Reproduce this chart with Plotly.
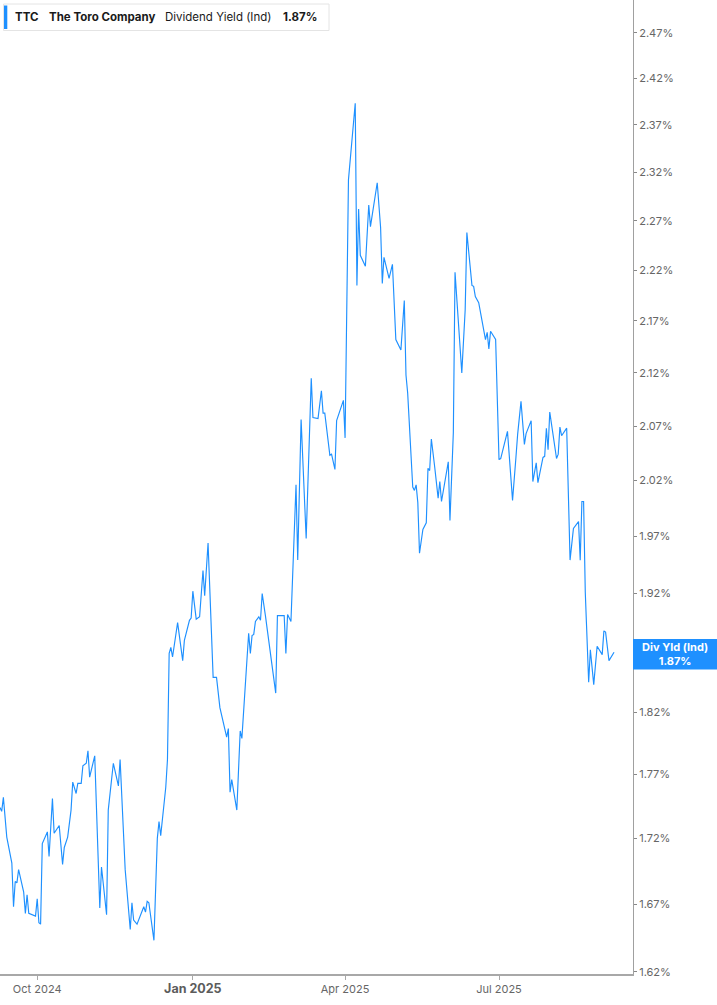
import plotly.graph_objects as go

# ============================================================
# 1. DATA  (TTC dividend yield, %)
# ============================================================
dates = [
    "2024-09-09", "2024-09-10", "2024-09-11", "2024-09-13", "2024-09-16", "2024-09-17",
    "2024-09-18", "2024-09-19", "2024-09-20", "2024-09-23", "2024-09-24", "2024-09-25",
    "2024-09-26", "2024-09-30", "2024-10-01", "2024-10-02", "2024-10-03", "2024-10-04",
    "2024-10-07", "2024-10-08", "2024-10-10", "2024-10-11", "2024-10-14", "2024-10-16",
    "2024-10-17", "2024-10-19", "2024-10-21", "2024-10-22", "2024-10-24", "2024-10-25",
    "2024-10-27", "2024-10-28", "2024-10-30", "2024-10-31", "2024-11-01", "2024-11-04",
    "2024-11-07", "2024-11-08", "2024-11-11", "2024-11-12", "2024-11-15", "2024-11-18",
    "2024-11-19", "2024-11-22", "2024-11-25", "2024-11-26", "2024-11-27", "2024-11-29",
    "2024-12-03", "2024-12-04", "2024-12-05", "2024-12-06", "2024-12-09", "2024-12-11",
    "2024-12-12", "2024-12-13", "2024-12-16", "2024-12-17", "2024-12-18", "2024-12-19",
    "2024-12-20", "2024-12-23", "2024-12-26", "2024-12-27", "2024-12-30", "2024-12-31",
    "2025-01-01", "2025-01-03", "2025-01-05", "2025-01-07", "2025-01-08", "2025-01-10",
    "2025-01-13", "2025-01-15", "2025-01-17", "2025-01-21", "2025-01-22", "2025-01-23",
    "2025-01-24", "2025-01-27", "2025-01-29", "2025-01-30", "2025-02-03", "2025-02-04",
    "2025-02-05", "2025-02-06", "2025-02-07", "2025-02-09", "2025-02-10", "2025-02-11",
    "2025-02-13", "2025-02-19", "2025-02-20", "2025-02-24", "2025-02-25", "2025-02-26",
    "2025-02-28", "2025-03-01", "2025-03-03", "2025-03-04", "2025-03-06", "2025-03-09",
    "2025-03-12", "2025-03-13", "2025-03-16", "2025-03-18", "2025-03-19", "2025-03-20",
    "2025-03-23", "2025-03-24", "2025-03-26", "2025-03-27", "2025-03-31", "2025-04-01",
    "2025-04-03", "2025-04-07", "2025-04-08", "2025-04-09", "2025-04-10", "2025-04-13",
    "2025-04-15", "2025-04-16", "2025-04-20", "2025-04-22", "2025-04-23", "2025-04-24",
    "2025-04-27", "2025-04-29", "2025-05-01", "2025-05-04", "2025-05-06", "2025-05-07",
    "2025-05-08", "2025-05-11", "2025-05-12", "2025-05-13", "2025-05-14", "2025-05-15",
    "2025-05-17", "2025-05-19", "2025-05-20", "2025-05-21", "2025-05-22", "2025-05-24",
    "2025-05-26", "2025-05-27", "2025-05-28", "2025-06-01", "2025-06-02", "2025-06-04",
    "2025-06-05", "2025-06-09", "2025-06-11", "2025-06-12", "2025-06-15", "2025-06-16",
    "2025-06-17", "2025-06-19", "2025-06-23", "2025-06-24", "2025-06-25", "2025-06-26",
    "2025-06-29", "2025-07-01", "2025-07-02", "2025-07-06", "2025-07-09", "2025-07-11",
    "2025-07-12", "2025-07-14", "2025-07-16", "2025-07-17", "2025-07-20", "2025-07-21",
    "2025-07-23", "2025-07-24", "2025-07-27", "2025-07-28", "2025-07-29", "2025-07-30",
    "2025-07-31", "2025-08-04", "2025-08-05", "2025-08-06", "2025-08-07", "2025-08-10",
    "2025-08-12", "2025-08-14", "2025-08-17", "2025-08-18", "2025-08-19", "2025-08-20",
    "2025-08-21", "2025-08-23", "2025-08-24", "2025-08-26", "2025-08-28", "2025-08-31",
    "2025-09-01", "2025-09-02", "2025-09-04", "2025-09-07",
]

yield_pct = [
    1.744, 1.741, 1.752, 1.721, 1.701, 1.668,
    1.687, 1.686, 1.696, 1.679, 1.663, 1.677,
    1.663, 1.661, 1.674, 1.656, 1.655, 1.716,
    1.725, 1.706, 1.751, 1.724, 1.730, 1.700,
    1.713, 1.721, 1.742, 1.764, 1.755, 1.763,
    1.763, 1.777, 1.779, 1.789, 1.768, 1.785,
    1.667, 1.698, 1.662, 1.742, 1.779, 1.761,
    1.782, 1.696, 1.651, 1.671, 1.658, 1.655,
    1.668, 1.664, 1.672, 1.671, 1.643, 1.720,
    1.733, 1.722, 1.760, 1.782, 1.869, 1.874,
    1.866, 1.895, 1.863, 1.880, 1.897, 1.899,
    1.922, 1.898, 1.900, 1.940, 1.918, 1.964,
    1.849, 1.849, 1.824, 1.800, 1.807, 1.756,
    1.766, 1.742, 1.805, 1.799, 1.886, 1.869,
    1.884, 1.885, 1.896, 1.900, 1.897, 1.920,
    1.900, 1.836, 1.901, 1.901, 1.869, 1.902,
    1.896, 1.942, 2.016, 1.949, 2.076, 1.968,
    2.115, 2.078, 2.077, 2.103, 2.082, 2.082,
    2.043, 2.044, 2.030, 2.075, 2.094, 2.059,
    2.312, 2.393, 2.205, 2.282, 2.235, 2.224,
    2.286, 2.264, 2.309, 2.263, 2.207, 2.233,
    2.212, 2.226, 2.152, 2.142, 2.190, 2.118,
    2.101, 2.014, 2.011, 2.016, 2.000, 1.955,
    1.976, 1.982, 2.031, 2.029, 2.058, 2.032,
    2.004, 2.019, 2.001, 2.037, 1.984, 2.064,
    2.218, 2.120, 2.181, 2.258, 2.205, 2.204,
    2.194, 2.188, 2.152, 2.159, 2.143, 2.160,
    2.152, 2.039, 2.040, 2.065, 2.002, 2.041,
    2.062, 2.093, 2.053, 2.063, 2.075, 2.019,
    2.036, 2.018, 2.041, 2.042, 2.068, 2.048,
    2.083, 2.040, 2.044, 2.069, 2.061, 2.068,
    1.949, 1.977, 1.983, 1.949, 2.001, 2.001,
    1.921, 1.845, 1.872, 1.843, 1.875, 1.868,
    1.888, 1.887, 1.863, 1.870,
]

y_ticks = [1.62, 1.67, 1.72, 1.77, 1.82, 1.92, 1.97, 2.02, 2.07, 2.12,
           2.17, 2.22, 2.27, 2.32, 2.37, 2.42, 2.47]
y_tick_labels = ["1.62%", "1.67%", "1.72%", "1.77%", "1.82%", "1.92%", "1.97%", "2.02%",
                 "2.07%", "2.12%", "2.17%", "2.22%", "2.27%", "2.32%", "2.37%", "2.42%", "2.47%"]

x_ticks = ["2024-10-01", "2025-01-01", "2025-04-01", "2025-07-01"]
x_tick_labels = ["Oct 2024", "Jan 2025", "Apr 2025", "Jul 2025"]

last_value = 1.87

# ============================================================
# 2. FIGURE
# ============================================================
BLUE = "#1e90ff"
FONT = "Inter"

# year-start label is drawn bigger and bold
x_labels_fmt = []
for lbl in x_tick_labels:
    if lbl.startswith("Jan"):
        x_labels_fmt.append("<span style='font-size:12.5px;color:#5c5c5c'><b>" + lbl + "</b></span>")
    else:
        x_labels_fmt.append(lbl)

fig = go.Figure()
fig.add_trace(go.Scatter(
    x=dates, y=yield_pct, mode="lines",
    line=dict(color=BLUE, width=1.15),
    hoverinfo="skip", showlegend=False
))

fig.update_layout(
    width=717, height=1005,
    margin=dict(l=0, r=84, t=0, b=31),
    paper_bgcolor="white", plot_bgcolor="white",
    font=dict(family=FONT, size=11, color="#666666"),
    xaxis=dict(
        range=["2024-09-09", "2025-09-18 05:00"],
        tickvals=x_ticks, ticktext=x_labels_fmt,
        showgrid=False, zeroline=False,
        showline=True, linecolor="#a8a8a8", linewidth=1.5,
        ticks="outside", ticklen=4, tickcolor="#a8a8a8",
        tickfont=dict(size=11, color="#666666"),
        fixedrange=True,
    ),
    yaxis=dict(
        type="log", side="right",
        range=[0.20907, 0.39908],
        tickvals=y_ticks, ticktext=y_tick_labels,
        showgrid=False, zeroline=False,
        showline=True, linecolor="#a0a0a0", linewidth=1,
        ticks="outside", ticklen=3, tickcolor="#888888",
        tickfont=dict(size=11, color="#666666"),
        fixedrange=True,
    ),
)

# header box (legend)
PW, PH = 633.0, 974.0
def px_x(v):
    return v / PW
def px_y(v):
    return 1 - v / PH

fig.add_shape(type="rect", xref="paper", yref="paper",
              x0=px_x(3.5), x1=px_x(329), y0=px_y(30.5), y1=px_y(4),
              line=dict(color="#e4e4e4", width=1), fillcolor="white", layer="above")
fig.add_shape(type="rect", xref="paper", yref="paper",
              x0=px_x(4), x1=px_x(7.3), y0=px_y(29), y1=px_y(5.5),
              line=dict(width=0), fillcolor=BLUE, layer="above")

header = [
    ("<b>TTC</b>", 13.3),
    ("<b>The Toro Company</b>", 46.7),
    ("Dividend Yield (Ind)", 163.3),
    ("<b>" + f"{last_value:.2f}%" + "</b>", 281),
]
for txt, xpos in header:
    fig.add_annotation(
        x=px_x(xpos), y=px_y(17), xref="paper", yref="paper",
        text=txt, showarrow=False, xanchor="left", yanchor="middle",
        font=dict(family=FONT, size=11.5, color="#1a1a1a"),
    )

# last value tag on the right axis
fig.add_shape(type="rect", xref="paper", yref="paper",
              x0=1.0, x1=717 / PW, y0=px_y(669.5), y1=px_y(639),
              line=dict(width=0), fillcolor=BLUE, layer="above")
fig.add_annotation(
    x=(633 + 717) / 2 / PW, y=px_y(654), xref="paper", yref="paper",
    text="<b>Div Yld (Ind)</b><br><b>" + f"{last_value:.2f}%" + "</b>",
    showarrow=False, xanchor="center", yanchor="middle", align="center",
    font=dict(family=FONT, size=11, color="white"),
)

# page margin would push the chart off the 717px window
fig.write_html("out.html", config={"displayModeBar": False},
               post_script="document.body.style.margin='0px';")
